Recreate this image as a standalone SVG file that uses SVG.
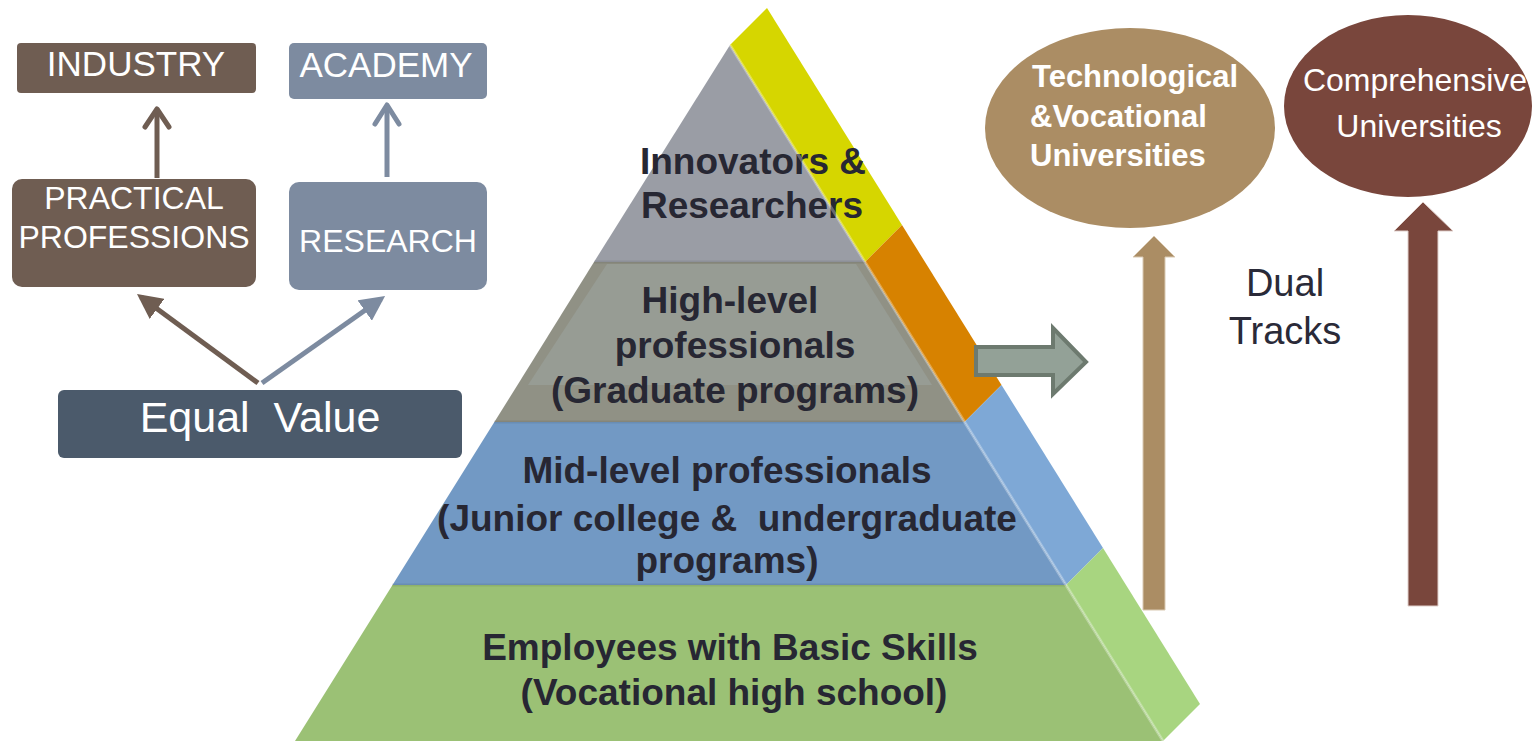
<svg xmlns="http://www.w3.org/2000/svg" width="1535" height="741" viewBox="0 0 1535 741">
<style>
.box{font-family:"Liberation Sans",Arial,sans-serif;fill:#ffffff;text-anchor:middle}
.pyr{font-family:"Liberation Sans",Arial,sans-serif;font-weight:bold;fill:#272733;font-size:37px;text-anchor:middle}
.edge{stroke:#ffffff;stroke-opacity:0.3;stroke-width:3;fill:none}
.sep{stroke:#000000;stroke-opacity:0.08;stroke-width:3}
</style>
<defs>
<marker id="triBrown" viewBox="0 0 10 10" refX="8" refY="5" markerWidth="5" markerHeight="5" orient="auto" markerUnits="strokeWidth">
<path d="M0,0 L10,5 L0,10 Z" fill="#6f5d52"/>
</marker>
<marker id="triBlue" viewBox="0 0 10 10" refX="8" refY="5" markerWidth="5" markerHeight="5" orient="auto" markerUnits="strokeWidth">
<path d="M0,0 L10,5 L0,10 Z" fill="#7d8ba0"/>
</marker>
</defs>
<rect width="1535" height="741" fill="#ffffff"/>

<g id="pyramid">
<g id="layer-top">
<polygon points="730,45 865,262 594,262" fill="#9a9da5"/>
<polygon points="730,45 767,8 902,225 865,262" fill="#d6d600"/>
<text class="pyr" x="753" y="174">Innovators &amp;</text>
<text class="pyr" x="752" y="218">Researchers</text>
</g>
<g id="layer-high">
<polygon points="594,262 865,262 964.5,422 494.4,422" fill="#909185"/>
<polygon points="607,264 856,264 932,385 528,385" fill="#979c94"/>
<polygon points="865,262 902,225 1001.5,385 964.5,422" fill="#d78200"/>
<text class="pyr" x="730" y="313">High-level</text>
<text class="pyr" x="735" y="358">professionals</text>
<text class="pyr" x="735" y="403">(Graduate programs)</text>
</g>
<g id="layer-mid">
<polygon points="494.4,422 964.5,422 1066,585 392.5,585" fill="#7299c4"/>
<polygon points="964.5,422 1001.5,385 1103,548 1066,585" fill="#7ea8d6"/>
<text class="pyr" x="727" y="483">Mid-level professionals</text>
<text class="pyr" x="727" y="531" xml:space="preserve">(Junior college &amp;  undergraduate</text>
<text class="pyr" x="727" y="573">programs)</text>
</g>
<g id="layer-base">
<polygon points="392.5,585 1066,585 1163,741 295,741" fill="#9bc175"/>
<polygon points="1066,585 1103,548 1200,704 1163,741" fill="#a8d580"/>
<text class="pyr" x="730" y="660">Employees with Basic Skills</text>
<text class="pyr" x="734" y="705">(Vocational high school)</text>
</g>
<line class="sep" x1="594" y1="262" x2="865" y2="262"/>
<line class="sep" x1="494" y1="422" x2="964" y2="422"/>
<line class="sep" x1="392" y1="585" x2="1066" y2="585"/>
<line class="edge" x1="730" y1="45" x2="1163" y2="741"/>
</g>

<g id="industry">
<rect x="17" y="43" width="239" height="50" rx="4" fill="#6f5d52"/>
<text class="box" x="136" y="76" font-size="35">INDUSTRY</text>
</g>
<g id="academy">
<rect x="289" y="43" width="198" height="56" rx="5" fill="#7d8ba0"/>
<text class="box" x="386" y="77" font-size="35">ACADEMY</text>
</g>
<g id="practical">
<rect x="12" y="179" width="244" height="108" rx="10" fill="#6f5d52"/>
<text class="box" x="134" y="209" font-size="32">PRACTICAL</text>
<text class="box" x="134" y="248" font-size="32">PROFESSIONS</text>
</g>
<g id="research">
<rect x="289" y="182" width="198" height="108" rx="10" fill="#7d8ba0"/>
<text class="box" x="388" y="252" font-size="32">RESEARCH</text>
</g>
<g id="equal-value">
<rect x="58" y="390" width="404" height="68" rx="6" fill="#4b5a6b"/>
<text class="box" x="260" y="432" font-size="43" xml:space="preserve">Equal  Value</text>
</g>

<g id="tech-univ">
<ellipse cx="1130" cy="128" rx="145" ry="100" fill="#ab8d64"/>
<text font-family="Liberation Sans,Arial,sans-serif" font-weight="bold" font-size="31" fill="#ffffff" x="1032" y="87">Technological</text>
<text font-family="Liberation Sans,Arial,sans-serif" font-weight="bold" font-size="31" fill="#ffffff" x="1030" y="127">&amp;Vocational</text>
<text font-family="Liberation Sans,Arial,sans-serif" font-weight="bold" font-size="31" fill="#ffffff" x="1030" y="166">Universities</text>
</g>
<g id="comp-univ">
<ellipse cx="1408" cy="106" rx="124" ry="91" fill="#79463c"/>
<text class="box" x="1415" y="91" font-size="32">Comprehensive</text>
<text class="box" x="1419" y="137" font-size="32">Universities</text>
</g>
<g id="dual-tracks">
<text font-family="Liberation Sans,Arial,sans-serif" font-size="38" fill="#2a2a38" text-anchor="middle" x="1285" y="296">Dual</text>
<text font-family="Liberation Sans,Arial,sans-serif" font-size="38" fill="#2a2a38" text-anchor="middle" x="1285" y="344">Tracks</text>
</g>

<g id="connectors">
<line x1="157" y1="178" x2="157" y2="110" stroke="#6f5d52" stroke-width="5"/>
<polyline points="145,127 157,109 169,127" fill="none" stroke="#6f5d52" stroke-width="5" stroke-linecap="round" stroke-linejoin="round"/>
<line x1="387" y1="177" x2="387" y2="105" stroke="#7d8ba0" stroke-width="5"/>
<polyline points="375,124 387,105 399,124" fill="none" stroke="#7d8ba0" stroke-width="5" stroke-linecap="round" stroke-linejoin="round"/>
<line x1="258" y1="383" x2="141" y2="297" stroke="#6f5d52" stroke-width="5" marker-end="url(#triBrown)"/>
<line x1="262" y1="383" x2="381" y2="299" stroke="#7d8ba0" stroke-width="5" marker-end="url(#triBlue)"/>
<polygon points="976,347 1053,347 1053,328 1086,362 1053,394 1053,375 976,375" fill="#93a197" stroke="#6d7a6f" stroke-width="4" stroke-linejoin="miter"/>
<polygon points="1143,610 1143,257 1133,257 1154,236 1175,257 1165,257 1165,610" fill="#ab8d64" stroke="#d9c9b2" stroke-width="1"/>
<polygon points="1408,606 1408,231 1394,231 1423,202 1453,231 1438,231 1438,606" fill="#79463c" stroke="#e0cfcb" stroke-width="1"/>
</g>
</svg>
